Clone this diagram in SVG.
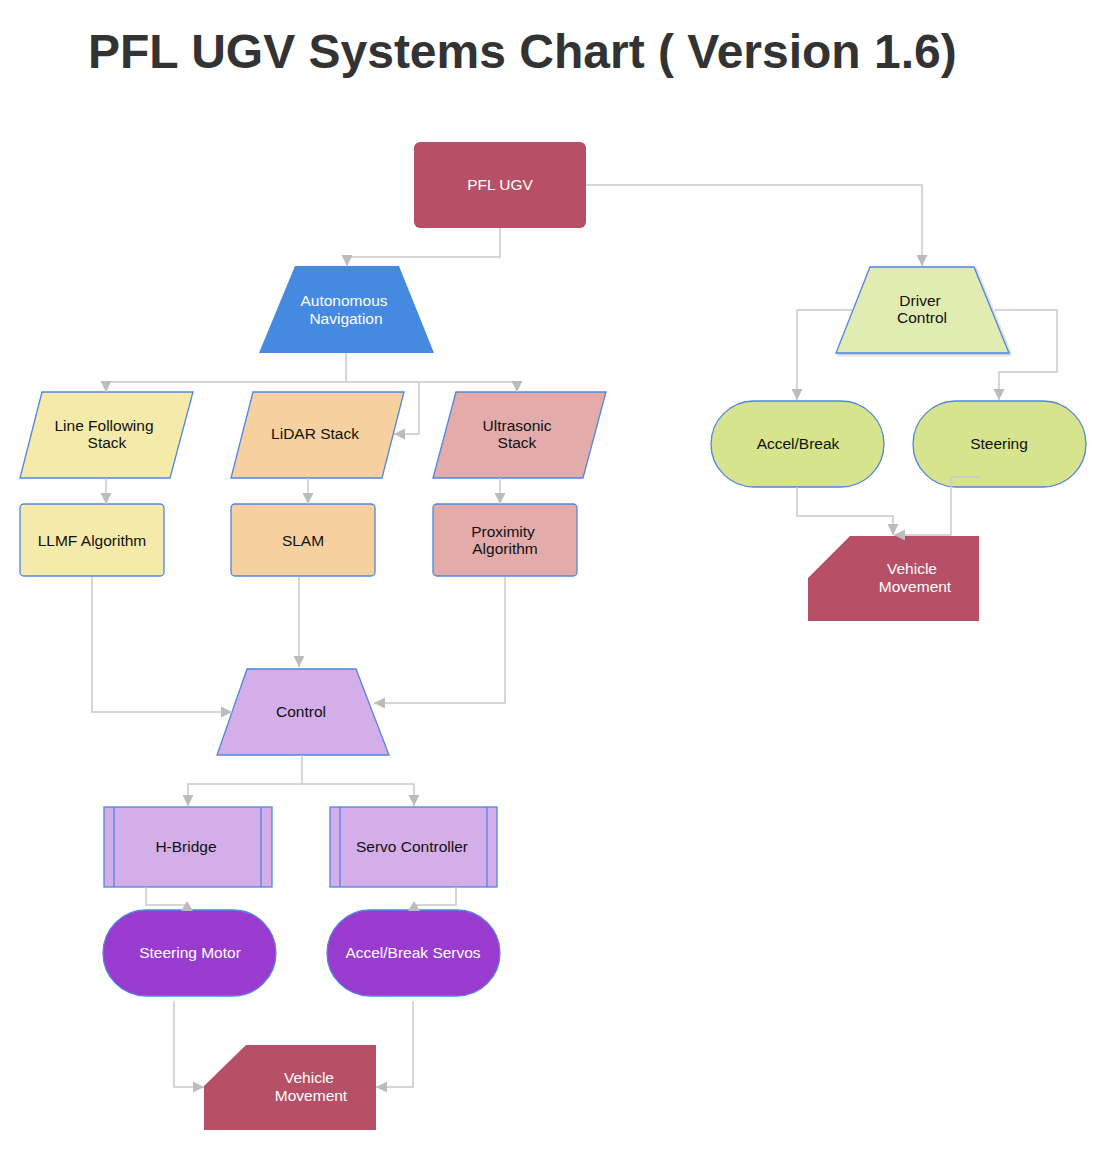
<svg xmlns="http://www.w3.org/2000/svg" width="1104" height="1152" viewBox="0 0 1104 1152">
<style>
text{font-family:"Liberation Sans",Arial,Helvetica,sans-serif;font-size:15.5px;text-anchor:middle;fill:#111}
.w{fill:#fff}
.title{font-size:48px;font-weight:bold;text-anchor:start;fill:#333}
.b{stroke:#4f86e0;stroke-width:1.3}
.red{fill:#b75066}
.yel{fill:#f4eaa9}
.org{fill:#f6d19f}
.pnk{fill:#e4abab}
.lil{fill:#d3aee8}
.pur{fill:#9a3bd0}
.lgr{fill:#e1ecb3}
.grn{fill:#d5e48d}
.c{fill:none;stroke:#c9c9c9;stroke-width:1.5;marker-end:url(#ah)}
.cn{fill:none;stroke:#c9c9c9;stroke-width:1.5}
.ah{fill:#bcbcbc}
</style>
<defs>
<marker id="ah" viewBox="0 0 10 10" refX="10" refY="5" markerWidth="11" markerHeight="12" markerUnits="userSpaceOnUse" orient="auto">
<path d="M0,0 L10,5 L0,10 z" fill="#bcbcbc"/>
</marker>
<filter id="sh" x="-10%" y="-10%" width="130%" height="130%">
<feDropShadow dx="1.5" dy="1.5" stdDeviation="1.2" flood-color="#000" flood-opacity="0.25"/>
</filter>
</defs>

<text class="title" x="88" y="68">PFL UGV Systems Chart ( Version 1.6)</text>

<g id="pfl-ugv"><rect class="red" x="414" y="142" width="172" height="86" rx="6"/><text class="w" x="500" y="190">PFL UGV</text></g>
<g id="autonomous-navigation"><polygon fill="#4589e0" points="295,266 399,266 434,353 259,353"/><text class="w" x="344" y="306">Autonomous</text><text class="w" x="346" y="324">Navigation</text></g>
<g id="line-following-stack"><polygon class="yel b" points="42,392 193,392 170,478 20,478"/><text x="104" y="431">Line Following</text><text x="107" y="448">Stack</text></g>
<g id="lidar-stack"><polygon class="org b" points="253,392 404,392 382,478 231,478"/><text x="315" y="439">LiDAR Stack</text></g>
<g id="ultrasonic-stack"><polygon class="pnk b" points="456,392 606,392 583,478 433,478"/><text x="517" y="431">Ultrasonic</text><text x="517" y="448">Stack</text></g>
<g id="llmf-algorithm"><rect class="yel b" x="20" y="504" width="144" height="72" rx="4"/><text x="92" y="546">LLMF Algorithm</text></g>
<g id="slam"><rect class="org b" x="231" y="504" width="144" height="72" rx="4"/><text x="303" y="546">SLAM</text></g>
<g id="proximity-algorithm"><rect class="pnk b" x="433" y="504" width="144" height="72" rx="4"/><text x="503" y="537">Proximity</text><text x="505" y="554">Algorithm</text></g>
<g id="control"><polygon class="lil b" points="247,669 356,669 389,755 217,755"/><text x="301" y="717">Control</text></g>
<g id="h-bridge"><rect class="lil b" x="104" y="807" width="168" height="80"/><line class="b" x1="114" y1="807" x2="114" y2="887"/><line class="b" x1="261" y1="807" x2="261" y2="887"/><text x="186" y="852">H-Bridge</text></g>
<g id="servo-controller"><rect class="lil b" x="330" y="807" width="167" height="80"/><line class="b" x1="340" y1="807" x2="340" y2="887"/><line class="b" x1="487" y1="807" x2="487" y2="887"/><text x="412" y="852">Servo Controller</text></g>
<g id="steering-motor"><rect class="pur b" x="103" y="910" width="173" height="86" rx="43"/><text class="w" x="190" y="958">Steering Motor</text></g>
<g id="accel-break-servos"><rect class="pur b" x="327" y="910" width="173" height="86" rx="43"/><text class="w" x="413" y="958">Accel/Break Servos</text></g>
<g id="vehicle-movement-1"><polygon class="red" points="246,1045 376,1045 376,1130 204,1130 204,1086"/><text class="w" x="309" y="1083">Vehicle</text><text class="w" x="311" y="1101">Movement</text></g>
<g id="driver-control"><polygon class="lgr b" filter="url(#sh)" points="870,267 974,267 1009,353 836,353"/><text x="920" y="306">Driver</text><text x="922" y="323">Control</text></g>
<g id="accel-break"><rect class="grn b" x="711" y="401" width="173" height="86" rx="43"/><text x="798" y="449">Accel/Break</text></g>
<g id="steering"><rect class="grn b" x="913" y="401" width="173" height="86" rx="43"/><text x="999" y="449">Steering</text></g>
<g id="vehicle-movement-2"><polygon class="red" points="850,536 979,536 979,621 808,621 808,578"/><text class="w" x="912" y="574">Vehicle</text><text class="w" x="915" y="592">Movement</text></g>

<g id="connectors">
<path class="c" d="M500,228 V257 H347 V266"/>
<path class="c" d="M586,185 H922 V266"/>
<path class="cn" d="M346,353 V382"/>
<path class="c" d="M346,382 H106 V392"/>
<path class="c" d="M346,382 H517 V392"/>
<path class="c" d="M419,382 V434 H394"/>
<path class="c" d="M106,478 V504"/>
<path class="c" d="M308,478 V504"/>
<path class="c" d="M500,478 V504"/>
<path class="c" d="M92,577 V712 H232"/>
<path class="c" d="M299,577 V667"/>
<path class="c" d="M505,577 V703 H374"/>
<path class="cn" d="M302,755 V784"/>
<path class="c" d="M302,784 H188 V806"/>
<path class="c" d="M302,784 H414 V806"/>
<path class="cn" d="M146,887 V905 H187"/>
<polygon class="ah" points="181,911 193,911 187,901"/>
<path class="cn" d="M456,887 V905 H414"/>
<polygon class="ah" points="408,911 420,911 414,901"/>
<path class="c" d="M174,1001 V1087 H204"/>
<path class="c" d="M413,1001 V1087 H376"/>
<path class="c" d="M852,310 H797 V400"/>
<path class="c" d="M995,310 H1057 V372 H999 V400"/>
<path class="c" d="M797,487 V516 H893 V535"/>
<path class="c" d="M980,477 H951 V535 H894"/>
</g>
</svg>
